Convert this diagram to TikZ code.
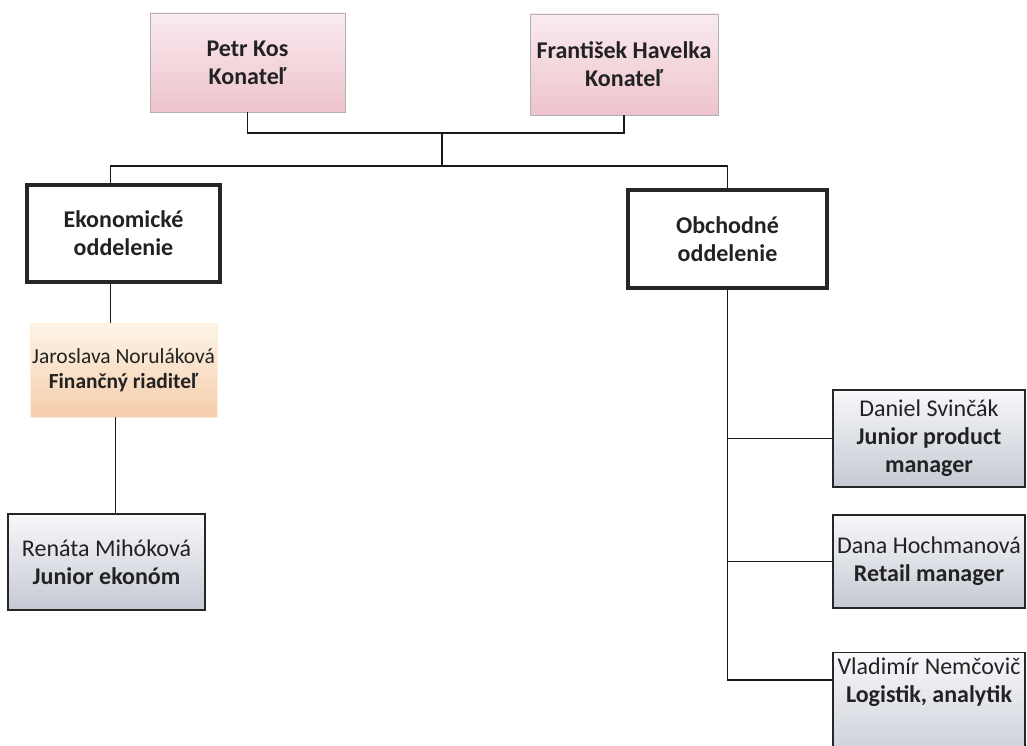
\documentclass[tikz,border=0pt]{standalone}
\usepackage{fontspec}
\setmainfont{Carlito}
\usepackage{color}

\definecolor{pinktop}{HTML}{F9EBEE}
\definecolor{pinkbot}{HTML}{EEC3CD}
\definecolor{peachtop}{HTML}{FDF5E8}
\definecolor{peachbot}{HTML}{F5CDAB}
\definecolor{graytop}{HTML}{F7F8FA}
\definecolor{graybot}{HTML}{C5C9D3}
\definecolor{ink}{HTML}{222222}
\newcommand\boxfont{\fontsize{24}{28}\selectfont}

\begin{document}
\begin{tikzpicture}[x=1pt,y=-1pt,
            font=\boxfont, text=ink,
            boss/.style={draw=black!30, thin, top color=pinktop, bottom color=pinkbot,
                align=center, font=\boxfont\bfseries},
            dept/.style={draw=black!85, line width=3.5pt, fill=white, align=center,
                font=\boxfont\bfseries},
            chief/.style={draw=orange!15, top color=peachtop, bottom color=peachbot, align=center,
                inner xsep=1pt, font=\fontsize{21.5}{25}\selectfont},
            staff/.style={draw=black!85, line width=1.2pt, top color=graytop, bottom color=graybot,
                align=center},
            wire/.style={black!90, line width=1.1pt},
        ]
        \useasboundingbox (0,0) rectangle (1027,746);
        \clip (0,0) rectangle (1027,746);
        \fill[white] (0,0) rectangle (1027,746);
        % vedenie
        \node[boss, minimum width=195, minimum height=99] (petr) at (247.5,62.5) {Petr Kos\\Konateľ};
        \node[boss, minimum width=188, minimum height=101] (frant) at (624,64.5) {František Havelka\\Konateľ};
        % oddelenia
        \node[dept, minimum width=193, minimum height=97] (ekon) at (123.5,233.5) {Ekonomické\\oddelenie};
        \node[dept, minimum width=199, minimum height=98] (obch) at (727.5,239) {Obchodné\\oddelenie};
        % ekonomicke
        \node[chief, minimum width=187, minimum height=94] (jar) at (123.5,370) {Jaroslava Noruláková\\\textbf{Finančný riaditeľ}};
        \node[staff, minimum width=197, minimum height=96] (ren) at (106.5,562) {Renáta Mihóková\\\textbf{Junior ekonóm}};
        % obchodne
        \node[staff, minimum width=192, minimum height=97] (dan) at (929,438.5) {Daniel Svinčák\\\textbf{Junior product}\\\textbf{manager}};
        \node[staff, minimum width=192, minimum height=93] (dana) at (929,561.5) {Dana Hochmanová\\\textbf{Retail manager}};
        \node[staff, minimum width=192, minimum height=120, anchor=north] (vlad) at (929,652) {};
        \node[anchor=north, align=center] (vladtxt) at ([yshift=-2pt]vlad.north) {Vladimír Nemčovič\\\textbf{Logistik, analytik}};

        \coordinate (top) at (442,133);
        \coordinate (bus) at (442,166);
        \coordinate (vbr) at ([yshift=-28pt]vlad.north west);
        \draw[wire] (petr.south) |- (top) -| (frant.south);
        \draw[wire] (top) -- (bus);
        \draw[wire] ([xshift=-13pt]ekon.north) |- (bus) -| (obch.north);
        \draw[wire] ([xshift=-13pt]ekon.south) -- ([xshift=-13pt]ekon.south |- jar.north);
        \draw[wire] ([xshift=-8pt]jar.south) -- ([xshift=-8pt]jar.south |- ren.north);
        \draw[wire] (obch.south) |- (vbr);
        \draw[wire] (obch.south |- dan.west) -- (dan.west);
        \draw[wire] (obch.south |- dana.west) -- (dana.west);
    \end{tikzpicture}
\end{document}
